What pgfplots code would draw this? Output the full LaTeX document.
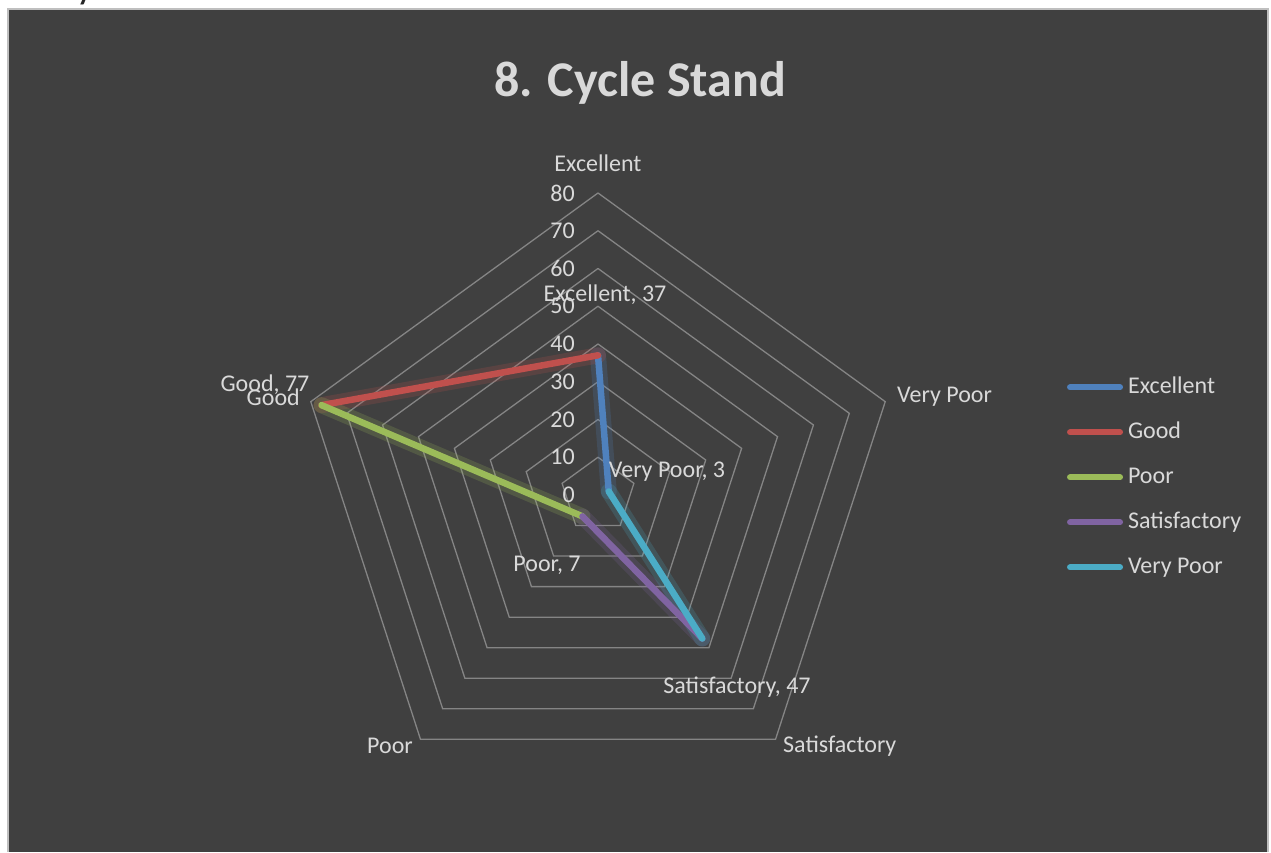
\documentclass[border=0pt]{standalone}
\usepackage{fontspec}
\setmainfont{Carlito}
\usepackage{pgfplots}
\pgfplotsset{compat=1.18}
\usepgfplotslibrary{polar}
\definecolor{bg}{HTML}{404040}
\definecolor{txt}{HTML}{D9D9D9}
\definecolor{gridc}{HTML}{858585}
\definecolor{cExc}{HTML}{4F81BD}
\definecolor{cGood}{HTML}{C0504D}
\definecolor{cPoor}{HTML}{9BBB59}
\definecolor{cSat}{HTML}{8064A2}
\definecolor{cVP}{HTML}{4BACC6}
\begin{document}
\begin{tikzpicture}[x=1pt,y=1pt]
\fill[white] (0,0) rectangle (1271,852);
\fill[bg] (8,0) rectangle (1268,843);
\draw[black!25, line width=1.5pt] (8,0) -- (8,843) -- (1268,843) -- (1268,0);
\begin{scope}
\clip (0,843.5) rectangle (1271,852);
\node[anchor=base, inner sep=0pt, font=\fontsize{40}{48}\selectfont, text=black!85] at (86,853) {y};
\end{scope}
\node[font=\fontsize{50}{60}\selectfont\bfseries, text=txt] at (640,769) {8. Cycle Stand};
\begin{axis}[at={(598pt,357pt)}, anchor=origin, x=3.775pt, y=3.775pt,
  xmin=-85, xmax=85, ymin=-85, ymax=85, hide axis, clip=false,
  legend cell align=left,
  legend image code/.code={\draw[line width=6pt, line cap=round, #1] (0pt,0pt) -- (50pt,0pt);},
  legend style={at={(axis cs:123.4,32.0)}, anchor=north west, draw=none, fill=none,
    text=txt, font=\fontsize{24}{28}\selectfont, row sep=23pt, column sep=5pt,
    nodes={inner sep=0pt, text height=17pt, text depth=5pt}},
]
\pgfplotsinvokeforeach{10,20,30,40,50,60,70,80}{
  \addplot[gridc, line width=1.3pt, data cs=polar, forget plot, line join=miter]
    coordinates {(90,#1) (18,#1) (-54,#1) (-126,#1) (162,#1) (90,#1)};
}
% glow layers
\addplot[cExc, line width=16pt, opacity=0.2, data cs=polar, forget plot, line cap=round, line join=round] coordinates {(90,37) (18,3)};
\addplot[cGood, line width=16pt, opacity=0.2, data cs=polar, forget plot, line cap=round, line join=round] coordinates {(162,77) (90,37)};
\addplot[cPoor, line width=16pt, opacity=0.2, data cs=polar, forget plot, line cap=round, line join=round] coordinates {(-126,7) (162,77)};
\addplot[cSat, line width=16pt, opacity=0.2, data cs=polar, forget plot, line cap=round, line join=round] coordinates {(-54,47) (-126,7)};
\addplot[cVP, line width=16pt, opacity=0.2, data cs=polar, forget plot, line cap=round, line join=round] coordinates {(18,3) (-54,47)};
% series
\addplot[cExc, line width=6.5pt, data cs=polar, line cap=round] coordinates {(90,37) (18,3)};
\addlegendentry{Excellent}
\addplot[cGood, line width=6.5pt, data cs=polar, line cap=round] coordinates {(162,77) (90,37)};
\addlegendentry{Good}
\addplot[cPoor, line width=6.5pt, data cs=polar, line cap=round] coordinates {(-126,7) (162,77)};
\addlegendentry{Poor}
\addplot[cSat, line width=6.5pt, data cs=polar, line cap=round] coordinates {(-54,47) (-126,7)};
\addlegendentry{Satisfactory}
\addplot[cVP, line width=6.5pt, data cs=polar, line cap=round] coordinates {(18,3) (-54,47)};
\addlegendentry{Very Poor}
\end{axis}
\begin{scope}[every node/.style={text=txt, font=\fontsize{24}{28}\selectfont, inner sep=0pt}]
% radial ticks
\foreach \v in {0,10,20,30,40,50,60,70,80}{
  \node[anchor=east] at (575, 357+3.775*\v) {\v};
}
% category labels
\node at (598,689) {Excellent};
\node[anchor=west] at (897,455) {Very Poor};
\node[anchor=west] at (783,106) {Satisfactory};
\node[anchor=east] at (413,106) {Poor};
\node[anchor=east] at (300,455) {Good};
% data labels
\node at (605,557) {Excellent, 37};
\node at (667,380) {Very Poor, 3};
\node at (737,165) {Satisfactory, 47};
\node at (547,287) {Poor, 7};
\node at (265,467) {Good, 77};
\end{scope}
\end{tikzpicture}
\end{document}
